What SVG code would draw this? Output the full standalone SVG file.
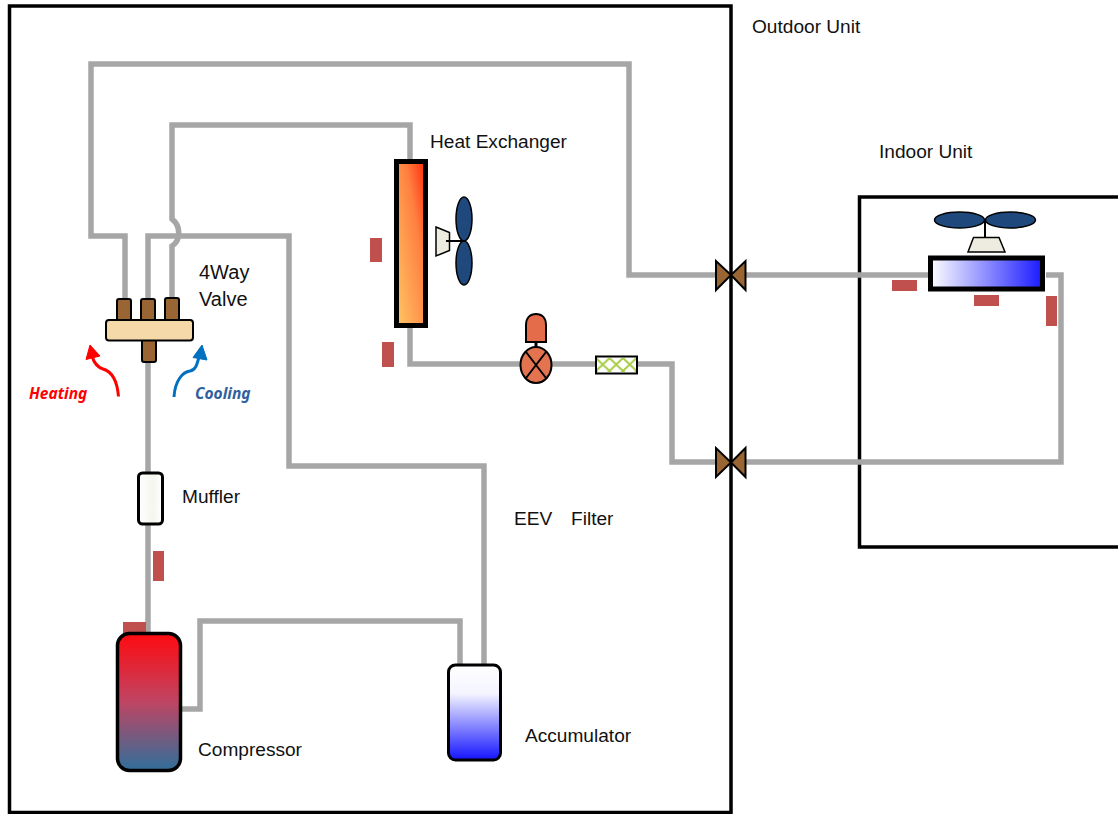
<svg xmlns="http://www.w3.org/2000/svg" width="1118" height="814" viewBox="0 0 1118 814">
<style>
.box{fill:none;stroke:#000;stroke-width:3.5}
.pipe{fill:none;stroke:#a6a6a6;stroke-width:5.500;stroke-linejoin:miter}
.sensor{fill:#c0504d}
.brass{fill:#996633;stroke:#000;stroke-width:2}
.blade{fill:#1f497d;stroke:#000;stroke-width:1.5}
.motor{fill:#eeece1;stroke:#000;stroke-width:1.5}
.lbl{font-family:"Liberation Sans",Arial,sans-serif;font-size:19.100px;fill:#111}
.flow{font-family:"Noto Sans","Liberation Sans",sans-serif;font-size:15.500px;font-weight:700;font-style:italic}
</style>
<defs>
<linearGradient id="gHx" x1="1" y1="0" x2="0" y2="1"><stop offset="0" stop-color="#ff2a0a"/><stop offset=".35" stop-color="#ff8040"/><stop offset="1" stop-color="#ffc766"/></linearGradient>
<linearGradient id="gComp" x1="0" y1="0" x2="0" y2="1"><stop offset="0" stop-color="#ff0a0f"/><stop offset=".5" stop-color="#bf4563"/><stop offset="1" stop-color="#2f6f9a"/></linearGradient>
<linearGradient id="gAcc" x1="0" y1="0" x2="0" y2="1"><stop offset="0" stop-color="#fff"/><stop offset=".3" stop-color="#f4f4ff"/><stop offset="1" stop-color="#1414ff"/></linearGradient>
<linearGradient id="gEvap" x1="0" y1="0" x2="1" y2="0"><stop offset="0" stop-color="#fff"/><stop offset="1" stop-color="#1a1aff"/></linearGradient>
<linearGradient id="gMuf" x1="0" y1="0" x2="1" y2="0"><stop offset="0" stop-color="#fff"/><stop offset=".6" stop-color="#f6f6ee"/><stop offset="1" stop-color="#fff"/></linearGradient>
<pattern id="pFil" width="13.500" height="13" patternUnits="userSpaceOnUse" x="596" y="358"><path d="M0 0L13.500 13M13.500 0L0 13" stroke="#a9cf4a" stroke-width="2" fill="none"/></pattern>
</defs>
<rect width="1118" height="814" fill="#fff"/>

<g id="outdoor-unit"><rect class="box" x="9.500" y="6" width="721.500" height="806.500"/><text class="lbl" x="752" y="33">Outdoor Unit</text></g>
<g id="indoor-unit"><path class="box" d="M1120 197H859.500V547H1120"/><text class="lbl" x="879" y="158">Indoor Unit</text></g>

<g id="connectors">
<path class="pipe" d="M125 300V236H91V64H629V275H720"/>
<path class="pipe" d="M740 275H932"/>
<path class="pipe" d="M172 300V246C181 240 181 226 172 219V125H410V162"/>
<path class="pipe" d="M148 300V236H289V466H484V666"/>
<path class="pipe" d="M148 360V634"/>
<path class="pipe" d="M181 709H200V621H460V666"/>
<path class="pipe" d="M410 325V364H672V462H720"/>
<path class="pipe" d="M740 462H1061V275H1046"/>
</g>

<g id="sensors">
<rect class="sensor" x="370" y="238" width="12" height="24"/>
<rect class="sensor" x="382" y="342" width="12" height="25"/>
<rect class="sensor" x="153" y="551" width="11" height="30"/>
<rect class="sensor" x="123" y="622" width="23" height="12"/>
<rect class="sensor" x="892" y="280" width="25" height="11"/>
<rect class="sensor" x="974" y="295" width="25" height="11"/>
<rect class="sensor" x="1046" y="296" width="11" height="30"/>
</g>

<g id="four-way-valve">
<rect class="brass" x="117" y="299" width="14" height="23" rx="2"/>
<rect class="brass" x="141" y="299" width="14" height="23" rx="2"/>
<rect class="brass" x="165" y="298" width="14" height="24" rx="2"/>
<rect class="brass" x="142" y="338" width="14" height="24" rx="2"/>
<rect x="106" y="320" width="87" height="20.500" rx="3" fill="#f5d9a8" stroke="#000" stroke-width="2"/>
<text class="lbl" x="199" y="279" style="font-size:20px">4Way</text><text class="lbl" x="199" y="306" style="font-size:20px">Valve</text>
</g>

<g id="heating-arrow">
<path d="M118.500 396.500C117 378 110 371 103 369C97 367 94 363 92 356" fill="none" stroke="#ff0000" stroke-width="3"/>
<path d="M90 345L86 359.500L100 356Z" fill="#ff0000" stroke="#ff0000"/>
<text class="flow" x="29" y="399" fill="#ff0000">Heating</text>
</g>
<g id="cooling-arrow">
<path d="M174 397C175 380 183 372 190 371C196 370 197 364 199 357" fill="none" stroke="#0070c0" stroke-width="3"/>
<path d="M202 345L193 357.500L207 360Z" fill="#0070c0" stroke="#0070c0"/>
<text class="flow" x="195" y="399" fill="#2f5f9e">Cooling</text>
</g>

<g id="muffler"><rect x="138.500" y="473" width="24" height="51" rx="4" fill="url(#gMuf)" stroke="#000" stroke-width="3"/><text class="lbl" x="182" y="503">Muffler</text></g>
<g id="compressor"><rect x="117.500" y="633.500" width="63" height="137" rx="12" fill="url(#gComp)" stroke="#000" stroke-width="3.500"/><text class="lbl" x="198" y="756">Compressor</text></g>
<g id="accumulator"><rect x="448.500" y="665" width="52" height="95" rx="7" fill="url(#gAcc)" stroke="#000" stroke-width="3"/><text class="lbl" x="525" y="742">Accumulator</text></g>

<g id="heat-exchanger"><rect x="396.500" y="161.500" width="29" height="164" fill="url(#gHx)" stroke="#000" stroke-width="5"/><text class="lbl" x="430" y="148">Heat Exchanger</text></g>
<g id="outdoor-fan">
<path class="motor" d="M436 227L449.500 232.500V250.500L436 256Z"/>
<path d="M446 241H464" stroke="#000" stroke-width="2"/>
<ellipse class="blade" cx="464" cy="219" rx="8" ry="22"/>
<ellipse class="blade" cx="464" cy="263" rx="8" ry="22"/>
</g>
<g id="eev">
<path d="M526 342V325C526 318 530 314 536 314C542 314 546 318 546 325V342Z" fill="#e46c4a" stroke="#000" stroke-width="2"/>
<path d="M536 342V348" stroke="#000" stroke-width="3"/>
<ellipse cx="536" cy="365" rx="15.500" ry="18" fill="#e4734f" stroke="#000" stroke-width="2"/>
<path d="M526 352L546 378M546 352L526 378" stroke="#000" stroke-width="2"/>
<text class="lbl" x="514" y="525">EEV</text>
</g>
<g id="filter">
<rect x="596" y="356.500" width="41" height="17" fill="#fff" stroke="#000" stroke-width="2"/>
<rect x="597" y="358" width="39" height="14" fill="url(#pFil)"/>
<text class="lbl" x="571" y="525">Filter</text>
</g>

<g id="service-valve-top"><path class="brass" d="M716 261V290L731 275ZM745.500 261V290L731 275Z"/></g>
<g id="service-valve-bottom"><path class="brass" d="M716 448V477L731 462.500ZM745.500 448V477L731 462.500Z"/></g>

<g id="indoor-fan">
<path class="motor" d="M968 252L973.500 237.500H999L1005 252Z"/>
<path d="M985 220V238" stroke="#000" stroke-width="2"/>
<ellipse class="blade" cx="959.500" cy="220" rx="25" ry="8"/>
<ellipse class="blade" cx="1010.500" cy="220" rx="25" ry="8"/>
</g>
<g id="indoor-coil"><rect x="930.500" y="258" width="112" height="31" fill="url(#gEvap)" stroke="#000" stroke-width="5"/></g>
</svg>
